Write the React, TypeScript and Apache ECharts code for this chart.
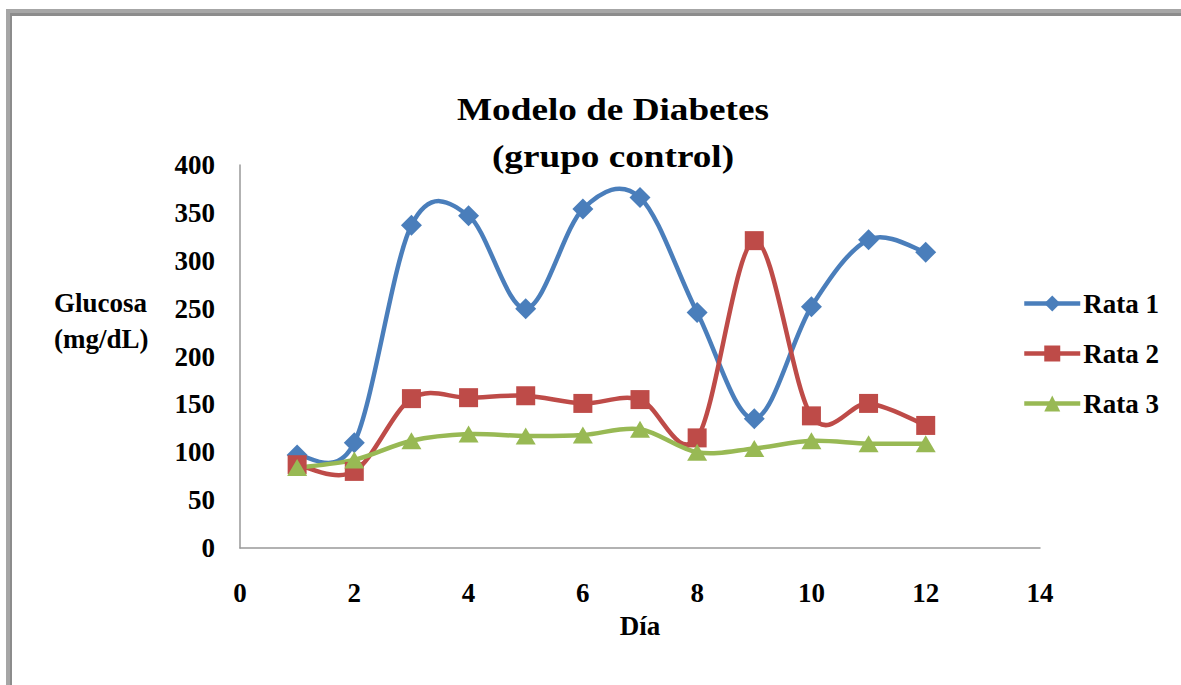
import React, { useEffect, useRef } from "react";
import * as echarts from "echarts";

const days = [1, 2, 3, 4, 5, 6, 7, 8, 9, 10, 11, 12];
const rata1 = [97, 110, 337, 347, 250, 354, 366, 246, 135, 252, 322, 309];
const rata2 = [87, 80, 156, 157, 159, 151, 155, 115, 321, 138, 151, 128];
const rata3 = [84, 92, 112, 119, 117, 118, 124, 100, 104, 112, 109, 109];
const seriesNames = ["Rata 1", "Rata 2", "Rata 3"];
const seriesValues = [rata1, rata2, rata3];
const symbols = ["diamond", "rect", "triangle"];
const symbolSizes: any[] = [21, 19, [20, 17]];
const colors = ["#4A7EBB", "#BE4B48", "#98B954"];
const titleLines = "Modelo de Diabetes\n(grupo control)";
const yAxisTitle = "Glucosa\n(mg/dL)";
const xAxisTitle = "Día";

const FONT = "Liberation Serif";

export default function App() {
  const ref = useRef<HTMLDivElement>(null);
  useEffect(() => {
    if (!ref.current) return;
    const chart = echarts.init(ref.current, undefined, { renderer: "svg" });
    const mk = (vals: number[]) => days.map((d, i) => [d, vals[i]]);
    const textStyle = { fontFamily: FONT, fontWeight: "bold" as const, color: "#000" };

    // Catmull-Rom style smoothing (like Excel's smoothed lines), drawn via custom series
    const curveSeries = seriesValues.map((vals, si) => ({
      name: seriesNames[si] + " curva",
      type: "custom",
      z: 1,
      silent: true,
      data: mk(vals),
      renderItem: (params: any, api: any) => {
        const i = params.dataIndex;
        const n = vals.length;
        if (i >= n - 1) return { type: "group", children: [] };
        const P = (k: number) => {
          const kk = Math.max(0, Math.min(n - 1, k));
          return api.coord([days[kk], vals[kk]]);
        };
        const p0 = P(i - 1), p1 = P(i), p2 = P(i + 1), p3 = P(i + 2);
        const c1 = [p1[0] + (p2[0] - p0[0]) / 6, p1[1] + (p2[1] - p0[1]) / 6];
        const c2 = [p2[0] - (p3[0] - p1[0]) / 6, p2[1] - (p3[1] - p1[1]) / 6];
        const d = `M${p1[0]} ${p1[1]} C${c1[0]} ${c1[1]} ${c2[0]} ${c2[1]} ${p2[0]} ${p2[1]}`;
        return {
          type: "path",
          shape: { pathData: d },
          style: { stroke: colors[si], lineWidth: 4.5, fill: "none", lineCap: "round" },
        };
      },
    }));

    const markerSeries = seriesValues.map((vals, si) => ({
      name: seriesNames[si],
      type: "line",
      z: 3,
      data: mk(vals),
      symbol: symbols[si],
      symbolSize: symbolSizes[si],
      color: colors[si],
      lineStyle: { width: 4.5, color: colors[si], opacity: 0 },
      itemStyle: { color: colors[si] },
    }));

    chart.setOption({
      animation: false,
      backgroundColor: "#fff",
      legend: {
        orient: "vertical",
        left: 1017,
        top: 285,
        itemWidth: 56,
        itemHeight: 20,
        itemGap: 23,
        data: seriesNames,
        lineStyle: { opacity: 1, width: 4.5 },
        textStyle: { ...textStyle, fontSize: 27, padding: [0, 0, 0, -2] },
      },
      grid: { left: 240, top: 165, right: 141, bottom: 137, containLabel: false },
      xAxis: {
        type: "value",
        min: 0,
        max: 14,
        interval: 2,
        name: xAxisTitle,
        nameLocation: "middle",
        nameGap: 64,
        nameTextStyle: { ...textStyle, fontSize: 27 },
        axisLine: { show: true, lineStyle: { color: "#999", width: 1.5 } },
        axisTick: { show: false },
        splitLine: { show: false },
        axisLabel: { ...textStyle, fontSize: 27, margin: 31 },
      },
      yAxis: {
        type: "value",
        min: 0,
        max: 400,
        interval: 50,
        axisLine: { show: true, lineStyle: { color: "#999", width: 1.5 } },
        axisTick: { show: false },
        splitLine: { show: false },
        axisLabel: { ...textStyle, fontSize: 27, margin: 25 },
      },
      graphic: [
        {
          type: "text",
          x: 613,
          y: 86,
          scaleX: 1.2,
          style: {
            text: titleLines,
            fontFamily: FONT,
            fontWeight: "bold",
            fontSize: 31,
            lineHeight: 47,
            align: "center",
            verticalAlign: "top",
            fill: "#000",
          },
        },
        {
          type: "text",
          x: 54,
          y: 285,
          style: {
            text: yAxisTitle,
            fontFamily: FONT,
            fontWeight: "bold",
            fontSize: 27,
            fill: "#000",
            lineHeight: 36,
            verticalAlign: "top",
          },
        },
        { type: "rect", shape: { x: 6, y: 9, width: 1181, height: 4 }, style: { fill: "#a6a6a6" } },
        { type: "rect", shape: { x: 6, y: 13, width: 1181, height: 3 }, style: { fill: "#8c8c8c" } },
        { type: "rect", shape: { x: 6, y: 9, width: 4, height: 700 }, style: { fill: "#a6a6a6" } },
        { type: "rect", shape: { x: 10, y: 13, width: 2, height: 700 }, style: { fill: "#8c8c8c" } },
      ],
      series: [...curveSeries, ...markerSeries],
    });
    return () => chart.dispose();
  }, []);
  return (
    <div
      ref={ref}
      style={{ position: "fixed", left: 0, top: 0, width: 1181, height: 685 }}
    />
  );
}
